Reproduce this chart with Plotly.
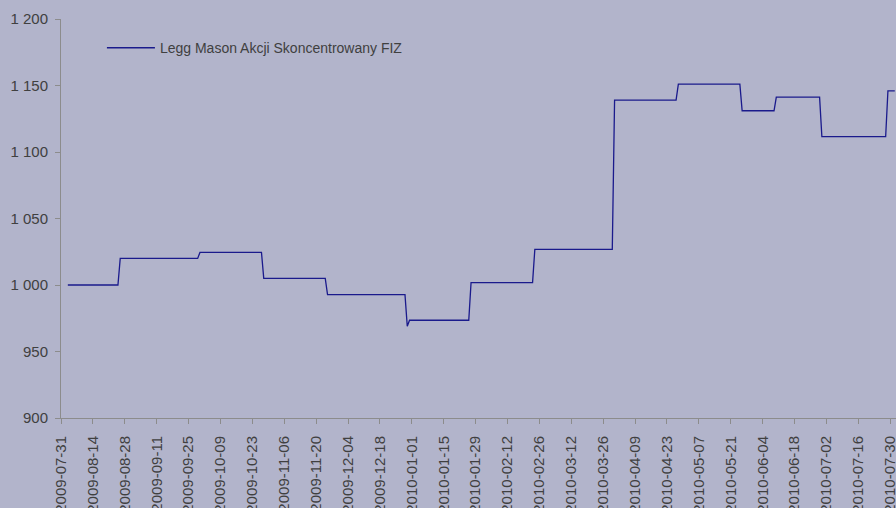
import plotly.graph_objects as go

# ---- data ----
dates = [
    "2009-08-03", "2009-08-25", "2009-08-26", "2009-09-29", "2009-09-30",
    "2009-10-27", "2009-10-28", "2009-11-24", "2009-11-25", "2009-12-29",
    "2009-12-30", "2009-12-31", "2010-01-26", "2010-01-27", "2010-02-23",
    "2010-02-24", "2010-03-30", "2010-03-31", "2010-04-27", "2010-04-28",
    "2010-05-25", "2010-05-26", "2010-06-09", "2010-06-10", "2010-06-29",
    "2010-06-30", "2010-07-28", "2010-07-29", "2010-08-01",
]
values = [
    1000, 1000, 1020, 1020, 1024.5,
    1024.5, 1005, 1005, 992.8, 992.8,
    969, 973.5, 973.5, 1001.8, 1001.8,
    1026.8, 1026.8, 1139, 1139, 1151,
    1151, 1131, 1131, 1141.2, 1141.2,
    1111.5, 1111.5, 1146, 1146,
]
series_name = "Legg Mason Akcji Skoncentrowany FIZ"

x_tick_labels = [
    "2009-07-31", "2009-08-14", "2009-08-28", "2009-09-11", "2009-09-25",
    "2009-10-09", "2009-10-23", "2009-11-06", "2009-11-20", "2009-12-04",
    "2009-12-18", "2010-01-01", "2010-01-15", "2010-01-29", "2010-02-12",
    "2010-02-26", "2010-03-12", "2010-03-26", "2010-04-09", "2010-04-23",
    "2010-05-07", "2010-05-21", "2010-06-04", "2010-06-18", "2010-07-02",
    "2010-07-16", "2010-07-30",
]
y_tick_values = [900, 950, 1000, 1050, 1100, 1150, 1200]

# ---- style ----
BG = "#B2B4CB"
AXIS = "#8C8C8C"
TXT = "#404040"
FONT = "Liberation Sans, Arial, sans-serif"

fig = go.Figure()
fig.add_trace(go.Scatter(
    x=dates, y=values, mode="lines", name=series_name,
    line=dict(color="#1A1A8C", width=1.3),
    showlegend=True,
))

fig.update_layout(
    width=896, height=508,
    margin=dict(l=61, r=0, t=19, b=90, autoexpand=False),
    paper_bgcolor=BG, plot_bgcolor=BG,
    separators=", ",
    font=dict(family=FONT, size=14, color=TXT),
    showlegend=True,
    legend=dict(
        x=0.049, y=0.967, xanchor="left", yanchor="top",
        bgcolor="rgba(0,0,0,0)", itemwidth=48,
        font=dict(family=FONT, size=14, color=TXT),
    ),
    xaxis=dict(
        type="date", automargin=False,
        range=["2009-07-31", "2010-08-01 13:00"],
        tickmode="array", tickvals=x_tick_labels, ticktext=x_tick_labels,
        tickangle=-90,
        showgrid=False, zeroline=False,
        showline=True, linecolor=AXIS, linewidth=1,
        ticks="outside", ticklen=5, tickcolor=AXIS,
        ticklabelstandoff=6, ticklabeloverflow="allow",
        tickfont=dict(family=FONT, size=15, color=TXT),
    ),
    yaxis=dict(
        range=[900, 1200], automargin=False,
        tickmode="array", tickvals=y_tick_values,
        tickformat=",d",
        showgrid=False, zeroline=False,
        showline=True, linecolor=AXIS, linewidth=1,
        ticks="outside", ticklen=5, tickcolor=AXIS,
        ticklabelstandoff=4, ticklabeloverflow="allow",
        tickfont=dict(family=FONT, size=15, color=TXT),
    ),
)

fig.write_html(
    "out.html",
    config={"displayModeBar": False},
    post_script="document.body.style.margin='0';document.body.style.padding='0';"
                "document.body.style.background='" + BG + "';",
)
